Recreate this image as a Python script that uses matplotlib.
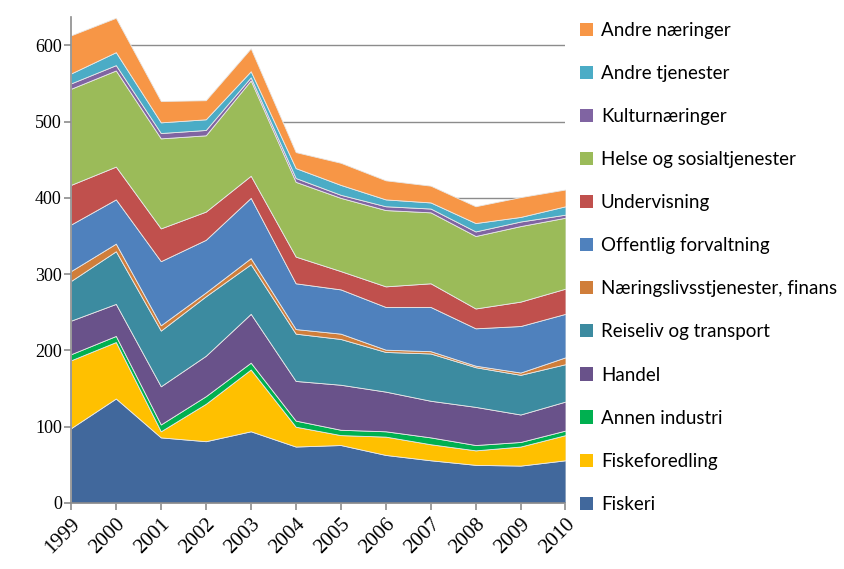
import matplotlib
matplotlib.use("Agg")
import matplotlib.pyplot as plt
from matplotlib.patches import Patch

years = [1999, 2000, 2001, 2002, 2003, 2004, 2005, 2006, 2007, 2008, 2009, 2010]

# values per sector, bottom of the stack first
fiskeri = [98, 137, 86, 81, 94, 74, 76, 63, 56, 50, 49, 56]
fiskeforedling = [89, 74, 8, 49, 81, 26, 13, 24, 21, 19, 25, 33]
annen_industri = [8, 8, 9, 10, 9, 8, 7, 7, 9, 7, 6, 6]
handel = [44, 42, 50, 53, 64, 52, 59, 52, 48, 50, 36, 38]
reiseliv = [52, 69, 73, 78, 65, 62, 60, 52, 62, 52, 52, 49]
naeringsliv = [13, 10, 7, 5, 8, 6, 7, 3, 3, 2, 3, 9]
offentlig = [61, 58, 84, 69, 79, 60, 58, 56, 58, 49, 61, 57]
undervisning = [52, 43, 43, 37, 29, 35, 24, 27, 31, 26, 32, 33]
helse = [126, 126, 118, 100, 125, 98, 96, 100, 93, 95, 99, 93]
kultur = [7, 7, 7, 7, 4, 5, 4, 5, 5, 6, 6, 4]
andre_tjenester = [13, 17, 14, 14, 8, 13, 13, 9, 8, 11, 6, 11]
andre_naeringer = [50, 45, 28, 25, 30, 21, 29, 25, 22, 22, 26, 22]

labels = ["Fiskeri", "Fiskeforedling", "Annen industri", "Handel",
          "Reiseliv og transport", "Næringslivsstjenester, finans",
          "Offentlig forvaltning", "Undervisning", "Helse og sosialtjenester",
          "Kulturnæringer", "Andre tjenester", "Andre næringer"]
colors = ["#41689c", "#ffc000", "#00b050", "#69528a", "#3c8ba0", "#d07e3a",
          "#4f81bd", "#c0504d", "#9bbb59", "#8064a2", "#4bacc6", "#f79646"]

series = [fiskeri, fiskeforedling, annen_industri, handel, reiseliv, naeringsliv,
          offentlig, undervisning, helse, kultur, andre_tjenester, andre_naeringer]

fig = plt.figure(figsize=(8.44, 5.69), dpi=100)
ax = fig.add_axes([0.084, 0.116, 0.586, 0.854])

ax.stackplot(years, *series, colors=colors, edgecolor="#e8e8e8", linewidth=0.6, zorder=2)

ax.set_xlim(1999, 2010)
ax.set_ylim(0, 637)
ax.set_yticks(range(0, 601, 100))
ax.set_xticks(years)
ax.yaxis.grid(True, color="#8c8c8c", linewidth=1.0, zorder=0)
ax.set_axisbelow(True)

for s in ["top", "right"]:
    ax.spines[s].set_visible(False)
for s in ["left", "bottom"]:
    ax.spines[s].set_color("#8c8c8c")
    ax.spines[s].set_linewidth(1.2)
ax.tick_params(axis="both", color="#8c8c8c", length=5, width=1.2, direction="out")
ax.tick_params(axis="y", pad=1.5)

serif = "Liberation Serif"
for t in ax.get_yticklabels():
    t.set_fontfamily(serif)
    t.set_fontsize(13)
ax.set_xticklabels([str(y) for y in years], rotation=45, ha="right",
                   rotation_mode="anchor", fontfamily=serif, fontsize=15)

handles = [Patch(facecolor=c, edgecolor="none") for c in colors]
leg = fig.legend(handles[::-1], labels[::-1], loc="upper left",
                 bbox_to_anchor=(0.678, 0.9745), frameon=False,
                 prop={"family": "Lato", "size": 13.5},
                 handlelength=0.7, handleheight=0.7, handletextpad=0.43,
                 labelspacing=1.39, borderaxespad=0)

fig.savefig("out.png", dpi=100)
